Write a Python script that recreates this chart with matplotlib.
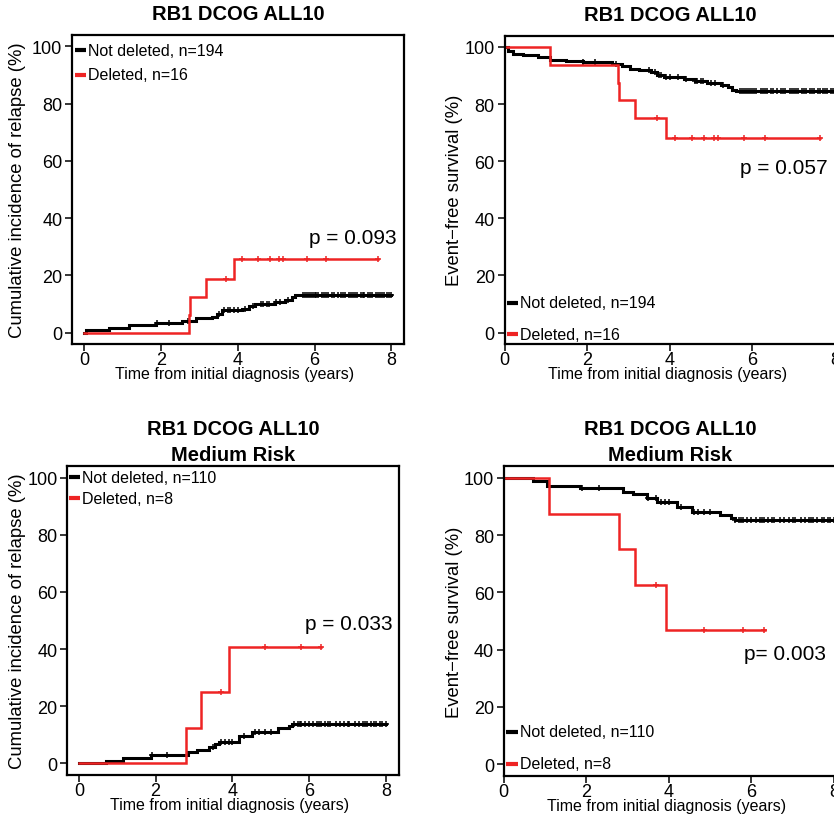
import matplotlib

matplotlib.use("Agg")
import matplotlib.pyplot as plt
import numpy as np

plt.rcParams["font.family"] = ["Liberation Sans", "DejaVu Sans"]

RED = "#EE2424"
BLACK = "#000000"

# --- all patients: cumulative incidence of relapse
cirAllBlackT = [0, 0.05, 0.64, 1.16, 1.86, 2.55, 2.9, 3.33, 3.45, 3.6, 4.1, 4.3, 4.45, 4.98, 5.24, 5.4, 5.5, 5.62]
cirAllBlackV = [0, 1.0, 1.6, 2.6, 3.2, 4.0, 5.0, 5.6, 6.6, 7.8, 8.4, 9.2, 10.0, 10.7, 11.4, 12.3, 13.0, 13.3]
cirAllRedT = [0, 2.72, 2.76, 3.16, 3.91]
cirAllRedV = [0, 6.25, 12.5, 18.75, 25.57]

# --- all patients: event-free survival
efsAllBlackT = [0, 0.08, 0.2, 0.45, 0.8, 1.1, 1.5, 1.9, 2.6, 2.85, 3.05, 3.25, 3.55, 3.7, 3.85, 4.35, 4.6, 4.9, 5.25, 5.4, 5.5, 5.6]
efsAllBlackV = [100, 98.5, 97.5, 97.0, 96.5, 95.3, 95.0, 94.6, 94.0, 93.3, 92.4, 91.8, 91.2, 90.2, 89.5, 88.8, 88.0, 87.4, 86.6, 85.8, 85.0, 84.4]
efsAllRedT = [0, 1.1, 2.74, 2.78, 3.17, 3.92]
efsAllRedV = [100, 93.75, 87.5, 81.25, 75.0, 68.18]

# --- medium risk: cumulative incidence of relapse
cirMrBlackT = [0, 0.7, 1.16, 1.88, 2.85, 3.07, 3.4, 3.55, 3.65, 4.16, 4.5, 5.2, 5.47, 5.55]
cirMrBlackV = [0, 0.9, 1.8, 2.8, 3.8, 4.6, 5.6, 6.6, 7.5, 9.4, 10.8, 12.2, 13.2, 13.7]
cirMrRedT = [0, 2.79, 3.18, 3.92]
cirMrRedV = [0, 12.5, 25.0, 40.6]

# --- medium risk: event-free survival
efsMrBlackT = [0, 0.72, 1.05, 1.85, 2.9, 3.14, 3.47, 3.71, 4.2, 4.56, 5.25, 5.5, 5.6]
efsMrBlackV = [100, 98.9, 97.2, 96.3, 95.2, 94.2, 92.8, 91.4, 89.7, 88.0, 87.0, 86.0, 85.2]
efsMrRedT = [0, 1.09, 2.79, 3.19, 3.92]
efsMrRedV = [100, 87.5, 75.0, 62.5, 46.9]

# censoring times
censAllBlack = [1.9, 2.2, 2.7, 3.5, 3.65, 3.75, 3.8, 3.9, 4.0, 4.2, 4.4, 4.6, 4.65, 4.75, 4.8, 5.0, 5.1, 5.3,
                5.7, 5.75, 5.8, 5.85, 5.9, 5.95, 6.0, 6.05, 6.1, 6.2, 6.25, 6.3, 6.35, 6.45, 6.5, 6.6, 6.7,
                6.75, 6.8, 6.9, 6.95, 7.0, 7.05, 7.1, 7.2, 7.25, 7.3, 7.4, 7.45, 7.5, 7.6, 7.65, 7.7, 7.75,
                7.8, 7.9, 7.95, 8.0]
censAllRed = [3.70, 4.12, 4.53, 4.84, 5.08, 5.18, 5.79, 6.30, 7.64]
censMrBlack = [1.9, 2.3, 3.5, 3.7, 3.8, 3.9, 4.0, 4.3, 4.6, 4.7, 4.85, 5.0, 5.6, 5.7, 5.75, 5.8, 5.9, 6.0,
               6.1, 6.2, 6.25, 6.3, 6.4, 6.5, 6.55, 6.7, 6.8, 6.9, 7.0, 7.05, 7.2, 7.3, 7.4, 7.45, 7.5, 7.6,
               7.7, 7.75, 7.85, 7.9, 8.0]
censMrRed = [3.70, 4.85, 5.80, 6.31]

labelsAll = ["Not deleted, n=194", "Deleted, n=16"]
labelsMr = ["Not deleted, n=110", "Deleted, n=8"]
pValues = ["p = 0.093", "p = 0.057", "p = 0.033", "p= 0.003"]
titleAll = ["RB1 DCOG ALL10"]
titleMr = ["RB1 DCOG ALL10", "Medium Risk"]
xTicks = [0, 2, 4, 6, 8]
yTicks = [0, 20, 40, 60, 80, 100]

W, H = 834, 820
fig = plt.figure(figsize=(W / 100, H / 100), dpi=100)


def addAxes(left, top, right, bottom):
    return fig.add_axes([left / W, 1 - bottom / H, (right - left) / W, (bottom - top) / H])


def stepValue(times, values, x):
    idx = np.searchsorted(np.asarray(times), x, side="right") - 1
    return np.asarray(values)[idx]


def drawCurve(ax, times, values, end, censors, color, lw):
    t = list(times) + [end]
    v = list(values) + [values[-1]]
    ax.step(t, v, where="post", color=color, lw=lw, solid_joinstyle="miter")
    cx = np.asarray(censors)
    ax.plot(cx, stepValue(times, values, cx), ls="none", marker="+", ms=5, mew=1.1, color=color)


def decorate(ax, titles, yLabel, yLabX, labels, legX, legY, pText, pPos, xlim, titleY):
    ax.set_xlim(*xlim)
    ax.set_ylim(-4, 104)
    ax.set_xticks(xTicks)
    ax.set_yticks(yTicks)
    ax.tick_params(direction="out", length=5, width=1.1, labelsize=13, pad=0)
    ax.tick_params(axis="y", pad=2)
    for s in ax.spines.values():
        s.set_linewidth(1.6)
    ax.set_xlabel("Time from initial diagnosis (years)", fontsize=11.5, va="center")
    ax.xaxis.set_label_coords(0.49, -0.097)
    ax.set_ylabel(yLabel, fontsize=13.3, va="center")
    ax.yaxis.set_label_coords(yLabX, 0.5)
    for text, y in zip(titles, titleY):
        ax.text(0.5, y, text, transform=ax.transAxes, ha="center", va="center",
                fontsize=14.5, fontweight="bold")
    for label, color, y in zip(labels, [BLACK, RED], legY):
        ax.plot([legX, legX + 0.034], [y, y], transform=ax.transAxes, color=color, lw=3,
                solid_capstyle="butt", clip_on=False)
        ax.text(legX + 0.040, y, label, transform=ax.transAxes, ha="left", va="center", fontsize=11.5)
    ax.text(pPos[0], pPos[1], pText, ha="center", va="center", fontsize=15)


# top left
ax1 = addAxes(72, 36, 404, 345)
drawCurve(ax1, cirAllBlackT, cirAllBlackV, 8.0, censAllBlack, BLACK, 2.2)
drawCurve(ax1, cirAllRedT, cirAllRedV, 7.64, censAllRed, RED, 1.8)
decorate(ax1, titleAll, "Cumulative incidence of relapse (%)", -0.163, labelsAll, 0.008,
         [0.951, 0.872], pValues[0], (7.0, 33.1), (-0.32, 8.33), [1.068])

# top right
ax2 = addAxes(504.5, 36.5, 837, 345)
drawCurve(ax2, efsAllBlackT, efsAllBlackV, 8.05, censAllBlack, BLACK, 2.2)
drawCurve(ax2, efsAllRedT, efsAllRedV, 7.64, censAllRed, RED, 1.8)
decorate(ax2, titleAll, "Event\u2212free survival (%)", -0.149, labelsAll, 0.008,
         [0.133, 0.032], pValues[1], (6.77, 57.9), (0, 8.05), [1.068])

# bottom left
ax3 = addAxes(67.3, 467.3, 399, 775.7)
drawCurve(ax3, cirMrBlackT, cirMrBlackV, 8.0, censMrBlack, BLACK, 2.2)
drawCurve(ax3, cirMrRedT, cirMrRedV, 6.31, censMrRed, RED, 1.8)
decorate(ax3, titleMr, "Cumulative incidence of relapse (%)", -0.149, labelsMr, 0.005,
         [0.964, 0.896], pValues[2], (7.04, 48.9), (-0.30, 8.34), [1.121, 1.037])

# bottom right
ax4 = addAxes(503.7, 467.3, 836, 776.7)
drawCurve(ax4, efsMrBlackT, efsMrBlackV, 8.05, censMrBlack, BLACK, 2.2)
drawCurve(ax4, efsMrRedT, efsMrRedV, 6.33, censMrRed, RED, 1.8)
decorate(ax4, titleMr, "Event\u2212free survival (%)", -0.147, labelsMr, 0.008,
         [0.142, 0.038], pValues[3], (6.82, 38.8), (0, 8.05), [1.121, 1.037])

fig.savefig("out.png", dpi=100)
